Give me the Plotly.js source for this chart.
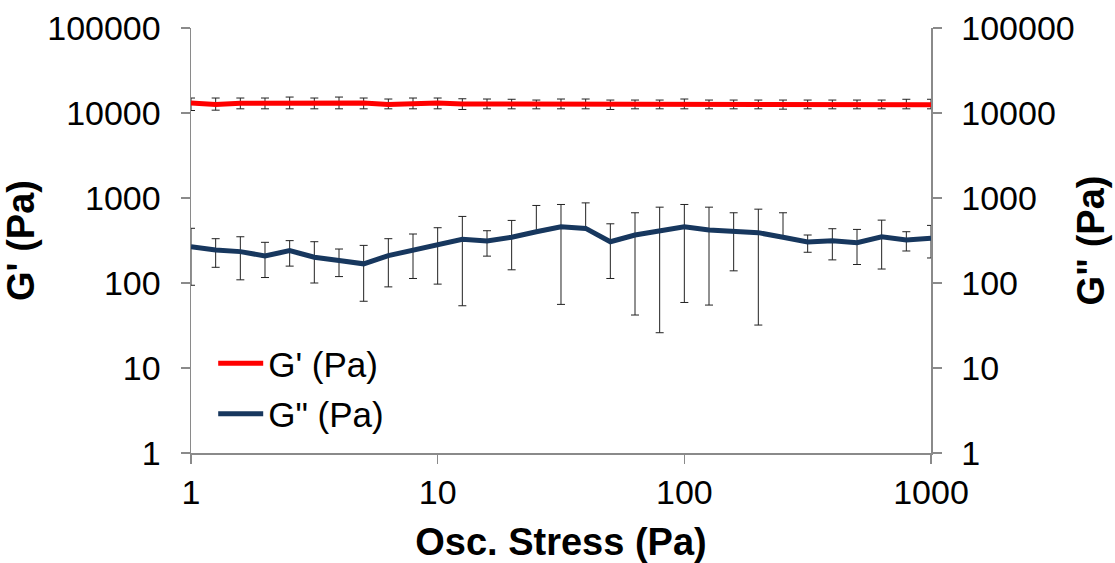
<!DOCTYPE html>
<html>
<head>
<meta charset="utf-8">
<script src="https://cdn.plot.ly/plotly-3.0.1.min.js"></script>
<style>html,body{margin:0;padding:0;background:#fff;}#chart{width:1115px;height:563px;}</style>
</head>
<body>
<div id="chart"></div>
<script>
// Oscillation stress (Pa): 31 points, 10 per decade from 1 to 1000
const stress = [1, 1.259, 1.585, 1.995, 2.512, 3.162, 3.981, 5.012, 6.31, 7.943,
  10, 12.59, 15.85, 19.95, 25.12, 31.62, 39.81, 50.12, 63.1, 79.43,
  100, 125.9, 158.5, 199.5, 251.2, 316.2, 398.1, 501.2, 631, 794.3, 1000];

// Storage modulus G' (Pa)
const gPrime = [13100, 12600, 13000, 13100, 13100, 13100, 13100, 13100, 12600, 13000,
  13100, 12800, 12800, 12700, 12700, 12800, 12800, 12700, 12700, 12700,
  12800, 12700, 12700, 12700, 12400, 12700, 12700, 12500, 12700, 12700, 12500];
const gPrimeErrPlus = [1900, 2400, 2000, 1900, 2300, 1900, 2300, 1900, 2000, 2000,
  1900, 1900, 1800, 1800, 1500, 1800, 1800, 1500, 1500, 1500,
  1800, 1500, 1500, 1500, 1800, 1500, 1500, 1700, 1500, 1800, 2000];
const gPrimeErrMinus = [2400, 1800, 1800, 1900, 1900, 1900, 1900, 1900, 1400, 1800,
  1900, 1800, 1600, 1500, 1500, 1600, 1600, 1700, 1500, 1500,
  1600, 1500, 1500, 1500, 1300, 1500, 1500, 1300, 1500, 1500, 1300];

// Loss modulus G'' (Pa)
const gDouble = [267, 245, 234, 208, 240, 201, 184, 168, 210, 245,
  280, 327, 312, 345, 401, 459, 439, 306, 367, 412,
  459, 420, 401, 391, 345, 304, 315, 298, 350, 321, 336];
const gDoubleErrPlus = [173, 87, 116, 93, 75, 105, 67, 109, 122, 132,
  167, 280, 100, 200, 416, 380, 437, 191, 303, 368,
  380, 360, 269, 348, 325, 63, 120, 129, 199, 80, 140];
// lower bars that fall below zero are not drawn in the reference (0 here)
const gDoubleErrMinus = [173, 92, 125, 92, 82, 101, 65, 107, 120, 132,
  183, 273, 105, 202, 0, 403, 0, 193, 325, 386,
  400, 365, 262, 359, 0, 74, 128, 133, 204, 83, 139];

const seriesNames = ["G' (Pa)", 'G" (Pa)'];
const xTitle = 'Osc. Stress (Pa)';
const yTitle = "G' (Pa)";
const y2Title = 'G" (Pa)';
const xTickVals = [1, 10, 100, 1000];
const xTickText = ['1', '10', '100', '1000'];
const yTickVals = [1, 10, 100, 1000, 10000, 100000];
const yTickText = ['1', '10', '100', '1000', '10000', '100000'];

const FONT = 'Liberation Sans, Arial, sans-serif';
const axisGray = '#8a8a8a';
const TICK_SIZE = 34;
const TITLE_SIZE = 38;

const traces = [
  {
    x: stress, y: gPrime, name: seriesNames[0], type: 'scatter', mode: 'lines',
    line: {color: '#ff0000', width: 5},
    legendgroup: 'a',
    error_y: {type: 'data', symmetric: false, array: gPrimeErrPlus, arrayminus: gPrimeErrMinus,
      color: '#222', thickness: 1, width: 4},
    xaxis: 'x', yaxis: 'y'
  },
  {
    x: stress, y: gDouble, name: seriesNames[1], type: 'scatter', mode: 'lines',
    line: {color: '#17375e', width: 5},
    legendgroup: 'b',
    error_y: {type: 'data', symmetric: false, array: gDoubleErrPlus, arrayminus: gDoubleErrMinus,
      color: '#222', thickness: 1, width: 4},
    xaxis: 'x', yaxis: 'y2'
  }
];

const yCommon = {
  type: 'log', range: [0, 5], tickvals: yTickVals, ticktext: yTickText,
  showgrid: false, zeroline: false, showline: true, linecolor: axisGray, linewidth: 1.5,
  ticks: 'outside', ticklen: 9, tickcolor: axisGray, tickwidth: 1.5,
  tickfont: {family: FONT, size: TICK_SIZE, color: '#000'}
};

const layout = {
  width: 1115, height: 563,
  margin: {l: 191, r: 184, t: 28, b: 110, pad: 0},
  paper_bgcolor: '#fff', plot_bgcolor: '#fff',
  font: {family: FONT, color: '#000'},
  showlegend: true,
  legend: {
    x: 0.03, y: 0.28, xanchor: 'left', yanchor: 'top',
    font: {family: FONT, size: 35, color: '#000'},
    bgcolor: 'rgba(0,0,0,0)', borderwidth: 0,
    traceorder: 'grouped', tracegroupgap: 2, itemwidth: 45
  },
  xaxis: {
    type: 'log', range: [0, 3], tickvals: xTickVals, ticktext: xTickText,
    showgrid: false, zeroline: false, showline: true, linecolor: axisGray, linewidth: 1.5,
    ticks: 'outside', ticklen: 9, tickcolor: axisGray, tickwidth: 1.5,
    tickfont: {family: FONT, size: TICK_SIZE, color: '#000'},
    title: {text: '<b>' + xTitle + '</b>', font: {family: FONT, size: TITLE_SIZE, color: '#000'}, standoff: 18}
  },
  yaxis: Object.assign({}, yCommon, {
    side: 'left', ticklabelstandoff: 13,
    title: {text: '<b>' + yTitle + '</b>', font: {family: FONT, size: TITLE_SIZE, color: '#000'}, standoff: 8}
  }),
  yaxis2: Object.assign({}, yCommon, {
    side: 'right', overlaying: 'y', anchor: 'x', ticklabelstandoff: 13,
    title: {text: '<b>' + y2Title + '</b>', font: {family: FONT, size: TITLE_SIZE, color: '#000'}, standoff: 3}
  })
};

Plotly.newPlot('chart', traces, layout, {displayModeBar: false, staticPlot: true});
</script>
</body>
</html>
